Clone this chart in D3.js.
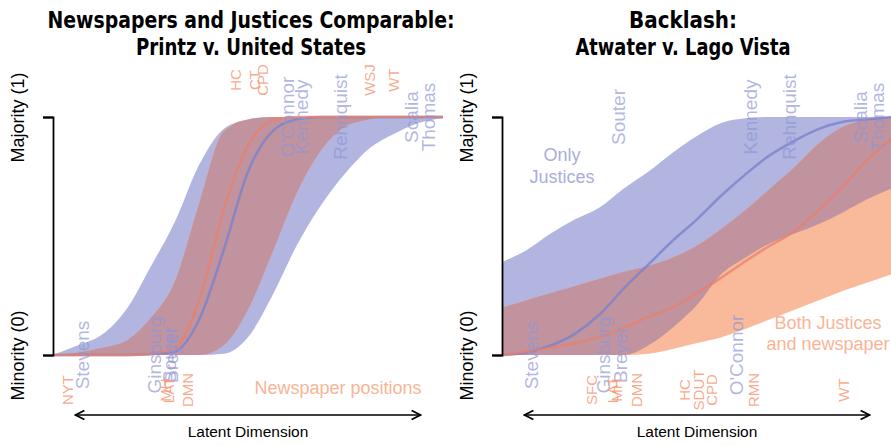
<!doctype html>
<html lang="en">
<head>
<meta charset="utf-8">
<title>Newspapers and Justices</title>
<script src="https://cdn.jsdelivr.net/npm/d3@7"></script>
<style>
  body { margin: 0; background: #fff; }
  svg text { font-family: "Liberation Sans", Arial, sans-serif; }
  .title { font-family: "Liberation Sans Narrow", "DejaVu Sans Condensed", sans-serif; font-weight: bold; font-size: 23px; fill: #000; }
  .justice { font-size: 19px; fill: #8f96d4; fill-opacity: 0.7; }
  .paper { font-size: 15px; fill: #f79a78; fill-opacity: 0.85; }
  .note-blue { font-size: 18px; fill: #a9aedd; }
  .note-red { font-size: 18px; fill: #f9b496; }
</style>
</head>
<body>
<svg width="891" height="445"></svg>
<script>
// latent dimension grid the curves were read at
var latent = [-2, -1.75, -1.5, -1.25, -1, -0.75, -0.5, -0.25, 0, 0.25, 0.5, 0.75, 1, 1.25, 1.5, 1.75, 2];

// Printz v. United States
var printzBlueHi = [0, 0.04, 0.085, 0.19, 0.37, 0.56, 0.80, 0.95, 0.99, 1, 1, 1, 1, 1, 1, 1, 1];
var printzBlueLo = [0, 0, 0, 0, 0, 0, 0, 0.005, 0.075, 0.25, 0.46, 0.63, 0.765, 0.87, 0.93, 0.975, 0.995];
var printzRedHi  = [0, 0.01, 0.03, 0.06, 0.155, 0.31, 0.64, 0.94, 0.99, 1, 1, 1, 1, 1, 1, 1, 1];
var printzRedLo  = [0, 0, 0, 0, 0, 0, 0, 0.04, 0.19, 0.43, 0.68, 0.86, 0.96, 0.99, 1, 1, 1];
var printzBlueMid = [0, 0, 0, 0, 0.003, 0.015, 0.15, 0.44, 0.77, 0.94, 0.99, 1, 1, 1, 1, 1, 1];
var printzRedMid  = [0, 0, 0, 0, 0.005, 0.03, 0.23, 0.61, 0.88, 0.985, 1, 1, 1, 1, 1, 1, 1];

// Atwater v. Lago Vista
var atwaterBlueHi = [0.39, 0.44, 0.51, 0.57, 0.62, 0.70, 0.77, 0.85, 0.92, 0.975, 0.995, 1, 1, 1, 1, 1, 1];
var atwaterBlueLo = [0, 0, 0, 0, 0, 0, 0.04, 0.115, 0.21, 0.34, 0.41, 0.47, 0.51, 0.55, 0.60, 0.655, 0.70];
var atwaterRedHi  = [0.20, 0.23, 0.26, 0.29, 0.32, 0.35, 0.375, 0.41, 0.46, 0.53, 0.61, 0.70, 0.79, 0.89, 0.96, 0.99, 1];
var atwaterRedLo  = [0, 0, 0, 0, 0, 0, 0.005, 0.025, 0.05, 0.075, 0.11, 0.15, 0.19, 0.23, 0.27, 0.305, 0.34];
var atwaterBlueMid = [0, 0.01, 0.04, 0.09, 0.17, 0.28, 0.38, 0.48, 0.57, 0.67, 0.76, 0.84, 0.90, 0.95, 0.98, 0.99, 1];
var atwaterRedMid  = [0, 0.015, 0.03, 0.05, 0.075, 0.115, 0.16, 0.20, 0.26, 0.325, 0.395, 0.46, 0.52, 0.61, 0.71, 0.82, 0.91];

// justices
var justices   = ["Stevens", "Ginsburg", "Souter", "Breyer", "O'Connor", "Kennedy", "Rehnquist", "Scalia", "Thomas"];
var justicePos = [-1.70, -0.96, -0.81, -0.79, 0.40, 0.55, 0.95, 1.68, 1.85];
var printzVotes  = [0, 0, 0, 0, 1, 1, 1, 1, 1];
var atwaterVotes = [0, 0, 1, 0, 0, 1, 1, 1, 1];

// newspapers
var printzPapers   = ["NYT", "MH", "LAT", "DMN", "HC", "CT", "CPD", "WSJ", "WT"];
var printzPaperPos = [-1.85, -0.84, -0.81, -0.62, -0.13, 0.07, 0.15, 1.25, 1.49];
var printzPaperVotes = [0, 0, 0, 0, 1, 1, 1, 1, 1];
var atwaterPapers   = ["SFC", "LAT", "MH", "DMN", "HC", "SDUT", "CPD", "RMN", "WT"];
var atwaterPaperPos = [-1.08, -0.86, -0.82, -0.62, -0.13, 0.02, 0.15, 0.58, 1.50];
var atwaterPaperVotes = [0, 0, 0, 0, 0, 0, 0, 0, 0];

var yTickValues = [0, 1];
var yTickLabels = ["Minority (0)", "Majority (1)"];

var svg = d3.select("svg");

var blueFill = "#b1b5df", redFill = "#f9b99b", bothFill = "#c0939f";

var panels = [
    { id: "printz", left: 53, title: ["Newspapers and Justices Comparable:", "Printz v. United States"],
      titleX: 251, titleW: [407, 230],
      blueHi: printzBlueHi, blueLo: printzBlueLo, redHi: printzRedHi, redLo: printzRedLo,
      blueMid: printzBlueMid, redMid: printzRedMid, votes: printzVotes,
      papers: printzPapers, paperPos: printzPaperPos, paperVotes: printzPaperVotes },
    { id: "atwater", left: 502, title: ["Backlash:", "Atwater v. Lago Vista"],
      titleX: 683, titleW: [108, 215],
      blueHi: atwaterBlueHi, blueLo: atwaterBlueLo, redHi: atwaterRedHi, redLo: atwaterRedLo,
      blueMid: atwaterBlueMid, redMid: atwaterRedMid, votes: atwaterVotes,
      papers: atwaterPapers, paperPos: atwaterPaperPos, paperVotes: atwaterPaperVotes }
];

var defs = svg.append("defs");
defs.append("marker")
    .attr("id", "arrow")
    .attr("viewBox", "0 0 10 10")
    .attr("refX", 9).attr("refY", 5)
    .attr("markerWidth", 7).attr("markerHeight", 7)
    .attr("orient", "auto-start-reverse")
    .append("path")
    .attr("d", "M1,1L9,5L1,9")
    .attr("fill", "none")
    .attr("stroke", "#000")
    .attr("stroke-width", 1.6);

panels.forEach(function(p) {
    var x = d3.scaleLinear().domain([-2, 2]).range([p.left, p.left + 390]);
    var y = d3.scaleLinear().domain([0, 1]).range([355, 117]);

    var g = svg.append("g");

    function band(hi, lo) {
        return d3.area()
            .curve(d3.curveMonotoneX)
            .x(function(d, i) { return x(latent[i]); })
            .y0(function(d, i) { return y(lo[i]); })
            .y1(function(d, i) { return y(hi[i]); })(latent);
    }
    var line = function(vals) {
        return d3.line()
            .curve(d3.curveMonotoneX)
            .x(function(d, i) { return x(latent[i]); })
            .y(function(d, i) { return y(vals[i]); })(latent);
    };

    defs.append("clipPath").attr("id", "clip-" + p.id)
        .append("path").attr("d", band(p.redHi, p.redLo));

    g.append("path").attr("d", band(p.blueHi, p.blueLo)).attr("fill", blueFill);
    g.append("path").attr("d", band(p.redHi, p.redLo)).attr("fill", redFill);
    g.append("path").attr("d", band(p.blueHi, p.blueLo)).attr("fill", bothFill)
        .attr("clip-path", "url(#clip-" + p.id + ")");

    g.append("path").attr("d", line(p.blueMid))
        .attr("fill", "none").attr("stroke", "#7a82cc").attr("stroke-opacity", 0.8).attr("stroke-width", 2.5);
    g.append("path").attr("d", line(p.redMid))
        .attr("fill", "none").attr("stroke", "#e8806a").attr("stroke-opacity", 0.75).attr("stroke-width", 2.5);

    // justice names sit at their vote
    g.selectAll(".justice")
        .data(justices)
        .enter().append("text")
        .attr("class", "justice")
        .attr("text-anchor", "middle")
        .attr("dy", "0.35em")
        .attr("transform", function(d, i) {
            return "translate(" + x(justicePos[i]) + "," + y(p.votes[i]) + ") rotate(-90)";
        })
        .text(function(d) { return d; });

    // newspapers sit outside the plot
    g.selectAll(".paper")
        .data(p.papers)
        .enter().append("text")
        .attr("class", "paper")
        .attr("text-anchor", "middle")
        .attr("dy", "0.35em")
        .attr("transform", function(d, i) {
            var yy = p.paperVotes[i] ? y(1) - 37 : y(0) + 35;
            return "translate(" + x(p.paperPos[i]) + "," + yy + ") rotate(-90)";
        })
        .text(function(d) { return d; });

    // y axis bracket
    g.append("g")
        .attr("transform", "translate(" + p.left + ",0)")
        .call(d3.axisLeft(y)
            .tickValues(yTickValues)
            .tickSize(10)
            .tickFormat(function(d, i) { return yTickLabels[i]; }))
        .call(function(a) {
            a.select(".domain").attr("stroke-width", 1.8);
            a.selectAll(".tick line").attr("stroke-width", 1.8);
            a.selectAll(".tick text")
                .attr("transform", "rotate(-90)")
                .attr("x", 0).attr("y", -29).attr("dy", 0)
                .attr("text-anchor", "middle")
                .attr("fill", "#000")
                .style("font-size", "18px")
                .style("font-family", "'Liberation Sans', Arial, sans-serif");
        });

    // latent dimension arrow
    g.append("line")
        .attr("x1", x(-1.77)).attr("x2", x(1.77))
        .attr("y1", 415).attr("y2", 415)
        .attr("stroke", "#000").attr("stroke-width", 1.6)
        .attr("marker-start", "url(#arrow)")
        .attr("marker-end", "url(#arrow)");
    g.append("text")
        .attr("x", x(0)).attr("y", 437)
        .attr("text-anchor", "middle")
        .style("font-size", "15.5px")
        .text("Latent Dimension");

    // titles (squeezed to the narrow face of the original)
    g.selectAll(".title")
        .data(p.title)
        .enter().append("text")
        .attr("class", "title")
        .attr("x", p.titleX)
        .attr("y", function(d, i) { return 28 + i * 27; })
        .attr("text-anchor", "middle")
        .attr("textLength", function(d, i) { return p.titleW[i]; })
        .attr("lengthAdjust", "spacingAndGlyphs")
        .text(function(d) { return d; });
});

// annotations
svg.append("text").attr("class", "note-red")
    .attr("x", 338).attr("y", 394).attr("text-anchor", "middle")
    .text("Newspaper positions");

var only = svg.append("text").attr("class", "note-blue").attr("text-anchor", "middle");
only.append("tspan").attr("x", 562).attr("y", 161).text("Only");
only.append("tspan").attr("x", 562).attr("y", 183).text("Justices");

var both = svg.append("text").attr("class", "note-red").attr("text-anchor", "middle");
both.append("tspan").attr("x", 828).attr("y", 329).text("Both Justices");
both.append("tspan").attr("x", 828).attr("y", 350).text("and newspaper");
</script>
</body>
</html>
